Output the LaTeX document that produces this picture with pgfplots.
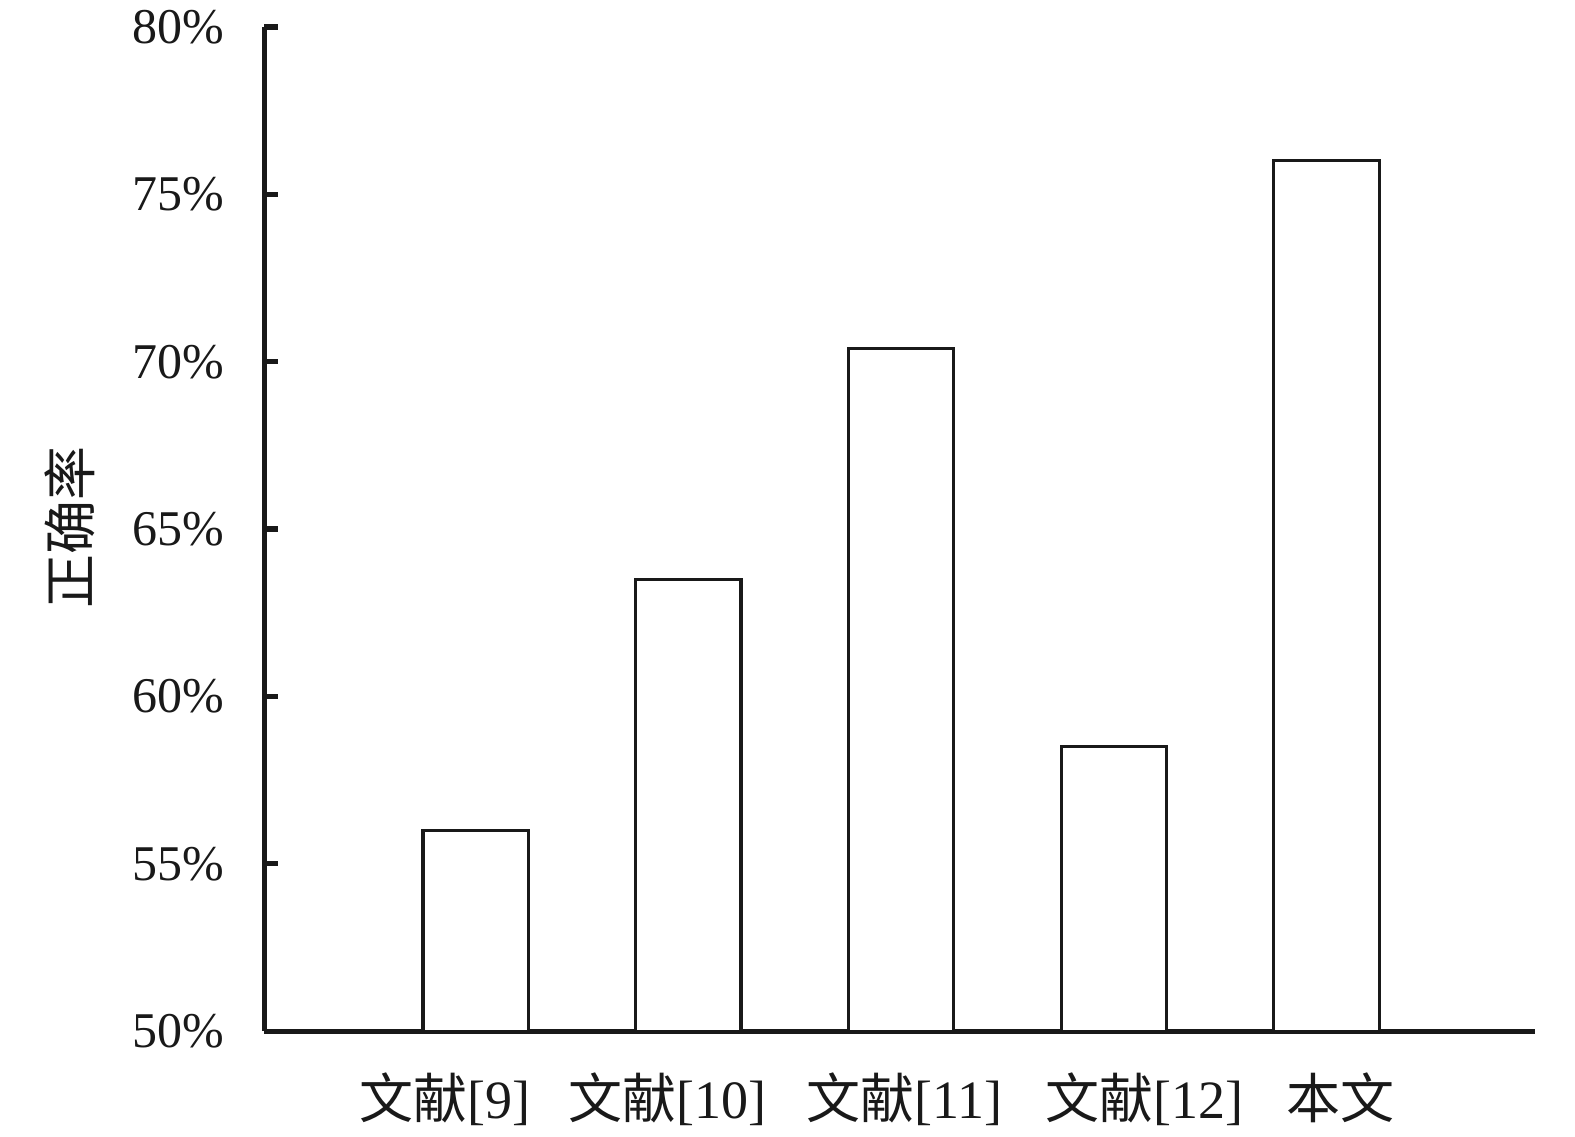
\documentclass[border=0pt]{standalone}
\usepackage{pgfplots}
\pgfplotsset{compat=1.18}
\usepackage{fontspec}
\setmainfont{Liberation Serif}
\newfontfamily\cjk{Noto Sans CJK SC}
\begin{document}
\begin{tikzpicture}
\begin{axis}[
  at={(0,0)}, anchor=south west,
  scale only axis,
  width=317.6pt, height=251pt,
  xmin=-0.993, xmax=4.98, ymin=50, ymax=80,
  axis x line=bottom, axis y line=left,
  axis line style={-, line width=1.3pt, black!90},
  xtick={-0.144,0.900,2.014,3.142,4.068},
  xticklabels={{\cjk 文献}[9],{\cjk 文献}[10],{\cjk 文献}[11],{\cjk 文献}[12],{\cjk 本文}},
  xtick style={draw=none},
  xticklabel style={font=\fontsize{13.5}{16}\selectfont, anchor=base, yshift=-21.75pt, text=black!90},
  ytick={50,55,60,65,70,75,80},
  yticklabel={\pgfmathprintnumber{\tick}\%},
  yticklabel style={font=\fontsize{12.5}{15}\selectfont, anchor=east, xshift=-6.5pt, text=black!90},
  /pgf/number format/assume math mode=true,
  tick align=inside,
  major tick length=3.5pt,
  ytick style={line width=1.3pt, black!90},
  ylabel={\cjk 正确率},
  ylabel style={at={(axis description cs:0,0.502)}, anchor=center, yshift=48.6pt, font=\fontsize{13.5}{16}\selectfont, text=black!90},
  clip=true,
]
\addplot[ybar, bar width=0.495, fill=white, draw=black!90, line width=0.8pt]
  coordinates {(0,56.0) (1,63.5) (2,70.4) (3,58.5) (4,76.0)};
\end{axis}
\pgfresetboundingbox
\path[use as bounding box] (-66.1pt,-26.25pt) rectangle (327.6pt,257.75pt);
\end{tikzpicture}
\end{document}
